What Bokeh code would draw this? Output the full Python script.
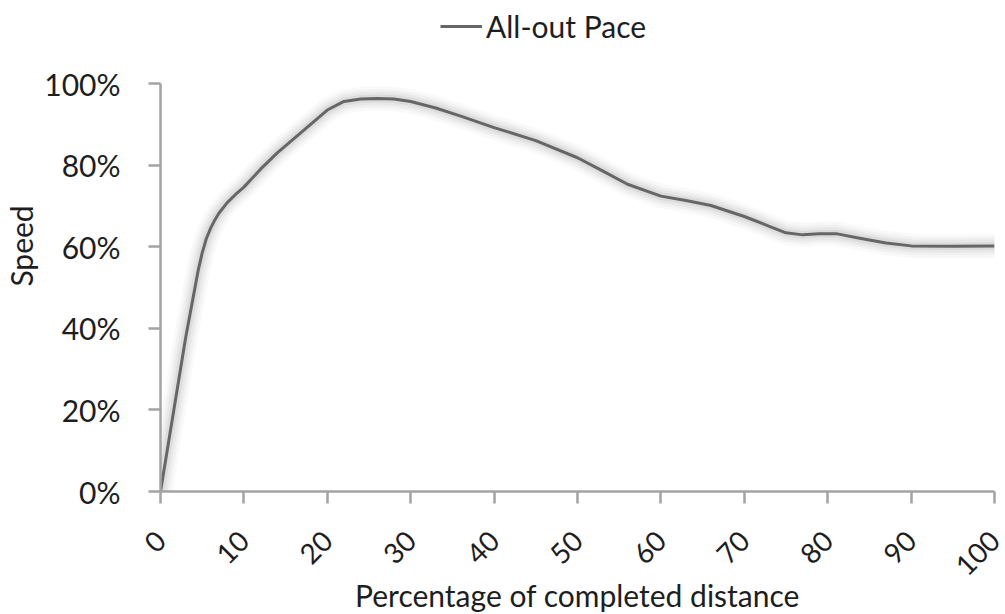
import math
from bokeh.plotting import figure
from bokeh.models import Legend, LegendItem, FixedTicker, PrintfTickFormatter, Range1d
from bokeh.embed import file_html
from bokeh.resources import INLINE

# Share of the race distance already covered (%)
distance = [0, 1, 2, 3, 3.5, 4, 4.5, 5, 5.5, 6, 6.5, 7, 8, 9, 10, 12, 14, 16, 18,
            20, 22, 24, 26, 28, 30, 33, 36, 40, 45, 50, 53, 56, 60, 63, 66, 70,
            73, 75, 77, 79, 81, 84, 87, 90, 95, 100]
# Running speed relative to top speed (%)
speed = [0, 12.5, 25, 37.5, 43, 48.5, 54, 58.5, 62, 64.5, 66.5, 68.2, 70.8, 72.8,
         74.6, 79, 83, 86.5, 90, 93.5, 95.6, 96.2, 96.3, 96.2, 95.6, 94.0, 92.0,
         89.2, 86.0, 81.8, 78.6, 75.3, 72.4, 71.3, 70.1, 67.4, 65, 63.4, 62.9,
         63.2, 63.2, 62.0, 60.9, 60.2, 60.1, 60.2]

series_name = "All-out Pace"
x_ticks = [0, 10, 20, 30, 40, 50, 60, 70, 80, 90, 100]
y_ticks = [0, 20, 40, 60, 80, 100]

FONT = "Lato"
TEXT = "#1e1e1e"
AXIS = "#a3a3a3"
LINE = "#666666"

# the frame reaches the top edge so the legend can sit above the 100% line;
# the axis itself is bounded to 0-100
PLOT_H = 408
FRAME_H = 491
p = figure(frame_width=834, frame_height=FRAME_H, output_backend="svg",
           toolbar_location=None,
           x_range=Range1d(0, 100), y_range=Range1d(0, 100 * FRAME_H / PLOT_H),
           min_border_left=160, min_border_right=11, min_border_top=0,
           min_border_bottom=123)
p.outline_line_color = None
p.grid.grid_line_color = None
p.background_fill_color = "white"
p.border_fill_color = "white"

# soft shadow halo beneath the series line
for w, a in [(24, 0.05), (18, 0.07), (13, 0.09), (8, 0.12)]:
    p.line(distance, speed, line_color="#8c8c8c", line_width=w, line_alpha=a,
           line_join="round", line_cap="round")
main = p.line(distance, speed, line_color=LINE, line_width=3, line_join="round")

xa = p.xaxis[0]
xa.ticker = FixedTicker(ticks=x_ticks)
xa.axis_label = "Percentage of completed distance"
xa.major_label_orientation = math.pi / 4

ya = p.yaxis[0]
ya.ticker = FixedTicker(ticks=y_ticks)
ya.formatter = PrintfTickFormatter(format="%d%%")
ya.axis_label = "Speed"
ya.bounds = (0, 100)

for ax in (xa, ya):
    ax.axis_line_color = AXIS
    ax.axis_line_width = 2.5
    ax.major_tick_line_color = AXIS
    ax.major_tick_line_width = 2.5
    ax.major_tick_out = 12
    ax.major_tick_in = 0
    ax.minor_tick_line_color = None
    ax.major_label_text_font = FONT
    ax.major_label_text_font_size = "30px"
    ax.major_label_text_color = TEXT
    ax.axis_label_text_font = FONT
    ax.axis_label_text_font_size = "30px"
    ax.axis_label_text_font_style = "normal"
    ax.axis_label_text_color = TEXT

xa.major_label_text_font_size = "28px"
ya.major_label_standoff = 28
ya.axis_label_standoff = 2
xa.major_label_standoff = 32
xa.axis_label_standoff = -11

legend = Legend(items=[LegendItem(label=series_name, renderers=[main])],
                location=(280, 447), orientation="horizontal",
                label_text_font=FONT, label_text_font_size="30px",
                label_text_color=TEXT, glyph_width=42, label_standoff=4,
                background_fill_alpha=0, border_line_color=None, margin=0,
                padding=8)
p.add_layout(legend)

open("out.html", "w").write(file_html(p, INLINE))
